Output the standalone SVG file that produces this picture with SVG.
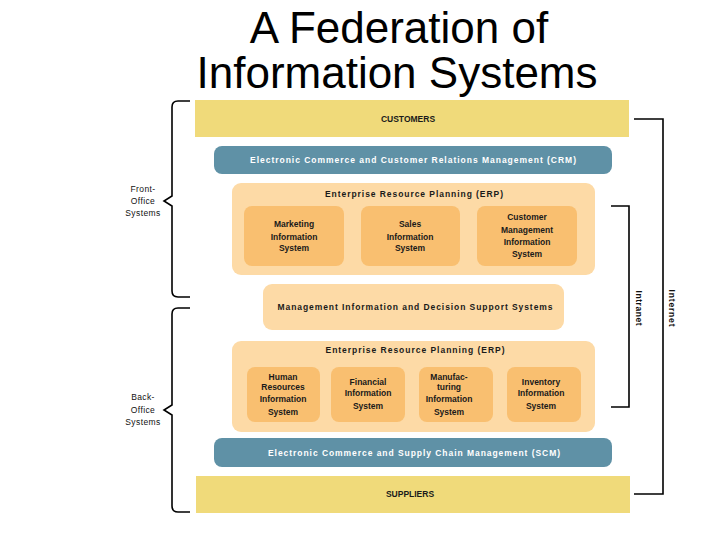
<svg xmlns="http://www.w3.org/2000/svg" width="720" height="540" viewBox="0 0 720 540">
<style>
.title{font-family:"Liberation Sans",Arial,sans-serif;font-size:44px;fill:#000;text-anchor:middle}
.band{fill:#F0DA7A}
.bar{fill:#5F91A6}
.erp{fill:#FDDAA6}
.sub{fill:#F9BF70}
.lbl{font-family:"Liberation Sans",Arial,sans-serif;font-size:8.5px;font-weight:bold;fill:#1a1a1a;text-anchor:middle}
.wl{font-family:"Liberation Sans",Arial,sans-serif;font-size:8.5px;font-weight:bold;fill:#ffffff;text-anchor:middle}
.side{font-family:"Liberation Sans",Arial,sans-serif;font-size:8.5px;fill:#111;text-anchor:middle;letter-spacing:0.4px}
.vt{font-family:"Liberation Sans",Arial,sans-serif;font-size:8.5px;font-weight:bold;fill:#111;text-anchor:middle}
.ln{fill:none;stroke:#000;stroke-width:1.6}
</style>
<rect width="720" height="540" fill="#ffffff"/>
<g id="title">
<text class="title" x="399" y="43">A Federation of</text>
<text class="title" x="397" y="88">Information Systems</text>
</g>
<g id="customers">
<rect class="band" x="195" y="100" width="434" height="37"/>
<text class="lbl" x="408" y="122">CUSTOMERS</text>
</g>
<g id="crm">
<rect class="bar" x="214" y="146" width="398" height="28" rx="8"/>
<text class="wl" x="413" y="163" textLength="326" lengthAdjust="spacing">Electronic Commerce and Customer Relations Management (CRM)</text>
</g>
<g id="erp-front">
<rect class="erp" x="232" y="183" width="363" height="92" rx="9"/>
<text class="lbl" x="414" y="197" textLength="178" lengthAdjust="spacing">Enterprise Resource Planning (ERP)</text>
</g>
<g id="marketing">
<rect class="sub" x="244" y="206" width="100" height="60" rx="8"/>
<text class="lbl" x="294" y="227">Marketing</text>
<text class="lbl" x="294" y="240" font-weight="normal">Information</text>
<text class="lbl" x="294" y="251">System</text>
</g>
<g id="sales">
<rect class="sub" x="361" y="206" width="99" height="60" rx="8"/>
<text class="lbl" x="410" y="227">Sales</text>
<text class="lbl" x="410" y="240" font-weight="normal">Information</text>
<text class="lbl" x="410" y="251">System</text>
</g>
<g id="customer-mgmt">
<rect class="sub" x="477" y="206" width="100" height="60" rx="8"/>
<text class="lbl" x="527" y="220">Customer</text>
<text class="lbl" x="527" y="233">Management</text>
<text class="lbl" x="527" y="245">Information</text>
<text class="lbl" x="527" y="257">System</text>
</g>
<g id="mis-dss">
<rect class="erp" x="263" y="284" width="301" height="46" rx="9"/>
<text class="lbl" x="415" y="310" textLength="275" lengthAdjust="spacing">Management Information and Decision Support Systems</text>
</g>
<g id="erp-back">
<rect class="erp" x="232" y="341" width="363" height="91" rx="9"/>
<text class="lbl" x="415" y="353" textLength="179" lengthAdjust="spacing">Enterprise Resource Planning (ERP)</text>
</g>
<g id="hr">
<rect class="sub" x="247" y="367" width="73" height="55" rx="8"/>
<text class="lbl" x="283" y="380">Human</text>
<text class="lbl" x="283" y="390">Resources</text>
<text class="lbl" x="283" y="402">Information</text>
<text class="lbl" x="283" y="415">System</text>
</g>
<g id="financial">
<rect class="sub" x="331" y="367" width="74" height="55" rx="8"/>
<text class="lbl" x="368" y="385">Financial</text>
<text class="lbl" x="368" y="396">Information</text>
<text class="lbl" x="368" y="409">System</text>
</g>
<g id="manufacturing">
<rect class="sub" x="419" y="367" width="74" height="55" rx="8"/>
<text class="lbl" x="449" y="380">Manufac-</text>
<text class="lbl" x="449" y="390" font-weight="normal">turing</text>
<text class="lbl" x="449" y="402">Information</text>
<text class="lbl" x="449" y="415">System</text>
</g>
<g id="inventory">
<rect class="sub" x="507" y="367" width="74" height="55" rx="8"/>
<text class="lbl" x="541" y="385">Inventory</text>
<text class="lbl" x="541" y="396">Information</text>
<text class="lbl" x="541" y="409">System</text>
</g>
<g id="scm">
<rect class="bar" x="214" y="438" width="398" height="29" rx="8"/>
<text class="wl" x="414" y="456" textLength="292" lengthAdjust="spacing">Electronic Commerce and Supply Chain Management (SCM)</text>
</g>
<g id="suppliers">
<rect class="band" x="196" y="476" width="434" height="37"/>
<text class="lbl" x="410" y="497">SUPPLIERS</text>
</g>
<g id="front-office">
<path class="ln" d="M190,101 H178 Q172,101 172,107 V196 L164,201 L172,206 V291 Q172,297 178,297 H190"/>
<text class="side" x="143" y="192">Front-</text>
<text class="side" x="143" y="204">Office</text>
<text class="side" x="143" y="216">Systems</text>
</g>
<g id="back-office">
<path class="ln" d="M190,308 H178 Q172,308 172,314 V405 L164,410 L172,415 V506 Q172,512 178,512 H190"/>
<text class="side" x="143" y="400">Back-</text>
<text class="side" x="143" y="413">Office</text>
<text class="side" x="143" y="425">Systems</text>
</g>
<g id="connectors">
<path class="ln" d="M611,206 H629 V407 H611"/>
<path class="ln" d="M634,119 H663 V494 H634"/>
</g>
<g id="intranet">
<text class="vt" transform="translate(636,308) rotate(90)" textLength="35" lengthAdjust="spacing">Intranet</text>
</g>
<g id="internet">
<text class="vt" transform="translate(669,308) rotate(90)" textLength="37" lengthAdjust="spacing">Internet</text>
</g>
</svg>
